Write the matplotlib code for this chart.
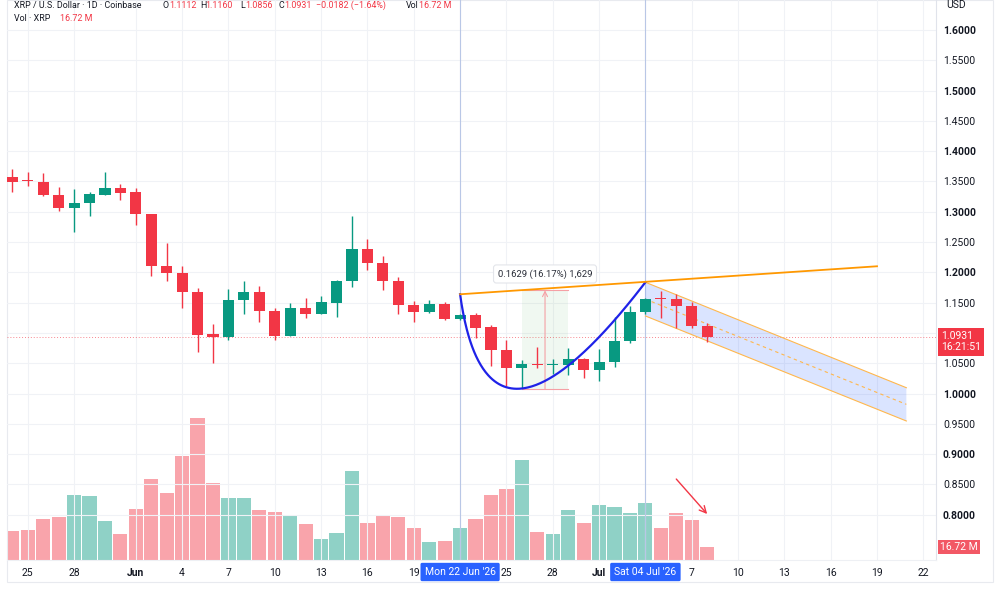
import numpy as np
import pandas as pd
import matplotlib
matplotlib.use('Agg')
import matplotlib.pyplot as plt
import matplotlib.transforms as mtransforms
from matplotlib.patches import Polygon, Rectangle

plt.rcParams['font.family'] = ['Roboto', 'DejaVu Sans']

# ---------------- data ----------------
start_date = pd.Timestamp('2026-05-24')
n_days = 46
dates = pd.date_range(start_date, periods=n_days, freq='D')

opens = [1.3569, 1.3508, 1.3492, 1.3277, 1.3057, 1.3140, 1.3283, 1.3393, 1.3321, 1.2964,
         1.2106, 1.1996, 1.1671, 1.0978, 1.0934, 1.1550, 1.1682, 1.1369, 1.0956, 1.1413,
         1.1319, 1.1501, 1.1853, 1.2381, 1.2161, 1.1858, 1.1457, 1.1347, 1.1484, 1.1231,
         1.1292, 1.1093, 1.0719, 1.0422, 1.0478, 1.0472, 1.0472, 1.0565, 1.0384, 1.0521,
         1.0862, 1.1341, 1.1572, 1.1567, 1.1446, 1.1112]
closes = [1.3492, 1.3500, 1.3277, 1.3057, 1.3140, 1.3288, 1.3393, 1.3310, 1.2958, 1.2100,
          1.1996, 1.1677, 1.0973, 1.0934, 1.1550, 1.1682, 1.1369, 1.0956, 1.1413, 1.1319,
          1.1506, 1.1853, 1.2381, 1.2161, 1.1858, 1.1457, 1.1347, 1.1484, 1.1231, 1.1290,
          1.1088, 1.0719, 1.0422, 1.0483, 1.0472, 1.0478, 1.0565, 1.0384, 1.0521, 1.0862,
          1.1341, 1.1567, 1.1562, 1.1446, 1.1110, 1.0931]
highs = [1.3701, 1.3651, 1.3646, 1.3415, 1.3371, 1.3321, 1.3651, 1.3464, 1.3393, 1.2964,
         1.2480, 1.2111, 1.1743, 1.1149, 1.1726, 1.1864, 1.1770, 1.1407, 1.1490, 1.1578,
         1.1611, 1.1869, 1.2931, 1.2551, 1.2271, 1.1924, 1.1528, 1.1545, 1.1517, 1.1310,
         1.1325, 1.1132, 1.0879, 1.0549, 1.0769, 1.0565, 1.0752, 1.0582, 1.0730, 1.1264,
         1.1451, 1.1575, 1.1693, 1.1638, 1.1517, 1.1160]
lows = [1.3321, 1.3431, 1.3266, 1.3019, 1.2667, 1.2936, 1.3283, 1.3195, 1.2788, 1.1946,
        1.1864, 1.1413, 1.0686, 1.0505, 1.0890, 1.1319, 1.1182, 1.0879, 1.0956, 1.1253,
        1.1308, 1.1270, 1.1759, 1.2040, 1.1704, 1.1308, 1.1187, 1.1336, 1.1220, 1.1220,
        1.0923, 1.0455, 1.0125, 1.0087, 1.0428, 1.0318, 1.0307, 1.0263, 1.0208, 1.0444,
        1.0829, 1.1308, 1.1253, 1.1088, 1.1088, 1.0856]
volumes_m = [36.1, 38.1, 51.5, 54.4, 81.7, 80.1, 49.0, 32.3, 63.7, 102.2,
             84.2, 130.3, 178.1, 96.8, 77.9, 77.9, 63.2, 60.3, 55.3, 44.9,
             26.0, 34.3, 111.9, 46.9, 56.6, 53.7, 40.6, 22.2, 23.5, 39.8,
             51.9, 81.7, 88.9, 125.7, 35.2, 33.1, 63.2, 46.5, 69.1, 66.6,
             59.1, 71.3, 40.6, 59.5, 49.9, 16.72]

price_ticks = [0.80, 0.85, 0.90, 0.95, 1.00, 1.05, 1.10, 1.15, 1.20, 1.25,
               1.30, 1.35, 1.40, 1.45, 1.50, 1.55, 1.60]
date_ticks = ['2026-05-25', '2026-05-28', '2026-06-01', '2026-06-04', '2026-06-07',
              '2026-06-10', '2026-06-13', '2026-06-16', '2026-06-19', '2026-06-22',
              '2026-06-25', '2026-06-28', '2026-07-01', '2026-07-04', '2026-07-07',
              '2026-07-10', '2026-07-13', '2026-07-16', '2026-07-19', '2026-07-22']
# '22' (Jun) and '4' (Jul) sit under the crosshair date boxes and are not visible
date_tick_labels = ['25', '28', 'Jun', '4', '7', '10', '13', '16', '19', '',
                    '25', '28', 'Jul', '', '7', '10', '13', '16', '19', '22']

last_price = 1.0931
last_volume = 16.72

# drawings (date, price)
marker_dates = ['2026-06-22', '2026-07-04']
marker_labels = ["Mon 22 Jun '26", "Sat 04 Jul '26"]
trend_line = [('2026-06-22', 1.1639), ('2026-07-19', 1.2101)]
cup_points = [('2026-06-22', 1.1639), (30.73, 0.8424), ('2026-07-04', 1.1837)]
channel_upper = [('2026-07-04', 1.1837), (57.9, 1.0097)]
channel_lower = [('2026-07-04', 1.1281), (57.9, 0.9548)]
measure_dates = ['2026-06-26', '2026-06-29']
measure_low, measure_high = 1.0074, 1.1703
measure_text = "0.1629 (16.17%) 1,629"
vol_arrow = [(43.0, 0.859), (45.0, 0.8013)]

# ---------------- helpers ----------------
def di(d):
    if isinstance(d, (int, float)):
        return float(d)
    return float((pd.Timestamp(d) - start_date).days)

x = np.arange(n_days)
o = np.array(opens); c = np.array(closes); h = np.array(highs); l = np.array(lows)
up = c >= o
GREEN = '#089981'
RED = '#f23645'
TXT = '#131722'
candle_colors = np.where(up, GREEN, RED)
vol_colors = [(8/255, 153/255, 129/255, 0.45) if u else (242/255, 54/255, 69/255, 0.45) for u in up]

W, H = 1000, 600
fig = plt.figure(figsize=(10, 6), dpi=100)
fig.patch.set_facecolor('white')
rect = [7 / W, 40 / H, 929 / W, 560 / H]
axv = fig.add_axes(rect, zorder=0)
ax = fig.add_axes(rect, zorder=1)
ax.patch.set_visible(False)

xlim = (-0.343, 59.82)
ax.set_xlim(xlim); axv.set_xlim(xlim)
ax.set_ylim(0.7254, 1.6495)
axv.set_ylim(0, 704)

# volume
axv.bar(x, volumes_m, width=0.92, color=vol_colors, linewidth=0)
axv.set_xticks([]); axv.set_yticks([])
for s in axv.spines.values():
    s.set_visible(False)

# grid / ticks
ax.set_yticks(price_ticks)
xt = [di(d) for d in date_ticks]
ax.set_xticks(xt)
ax.set_xticklabels(date_tick_labels)
ax.grid(True, color='#f0f2f6', lw=0.8)
ax.set_axisbelow(True)
ax.yaxis.tick_right()
ax.set_yticklabels([f'{p:.4f}' for p in price_ticks])
ax.tick_params(axis='y', length=0, pad=5, labelsize=7.5, labelcolor=TXT)
ax.tick_params(axis='x', length=0, pad=6, labelsize=7.5, labelcolor=TXT)
for lab, p in zip(ax.get_yticklabels(), price_ticks):
    if abs(round(p * 10) - p * 10) < 1e-6:
        lab.set_fontweight('bold')
for lab in ax.get_xticklabels():
    if lab.get_text() in ('Jun', 'Jul'):
        lab.set_fontweight('bold')
for k, s in ax.spines.items():
    s.set_visible(False)
ax.spines['right'].set_visible(True)
ax.spines['right'].set_color('#e0e3eb')
ax.spines['right'].set_linewidth(0.8)
ax.spines['bottom'].set_visible(True)
ax.spines['bottom'].set_color('#eef0f4')
ax.spines['bottom'].set_linewidth(0.8)

# vertical marker lines
for d in marker_dates:
    ax.axvline(di(d), color='#b9c7e6', lw=0.8, zorder=1)

# current price line
ax.axhline(last_price, color=RED, lw=0.7, ls=(0, (1, 2)), alpha=0.6, zorder=1)

# channel fill
ux = [di(p[0]) for p in channel_upper]; uy = [p[1] for p in channel_upper]
lx = [di(p[0]) for p in channel_lower]; ly = [p[1] for p in channel_lower]
poly = Polygon([(ux[0], uy[0]), (ux[1], uy[1]), (lx[1], ly[1]), (lx[0], ly[0])],
               closed=True, fc='#2962ff', alpha=0.17, ec='none', zorder=1.5)
ax.add_patch(poly)
ax.plot(ux, uy, color='#ffb74d', lw=0.8, zorder=2)
ax.plot(lx, ly, color='#ffb74d', lw=0.8, zorder=2)
ax.plot([ux[0], ux[1]], [(uy[0] + ly[0]) / 2, (uy[1] + ly[1]) / 2], color='#ffb74d',
        lw=0.8, ls=(0, (3, 3)), zorder=2)

# measurement box
mx0, mx1 = di(measure_dates[0]), di(measure_dates[1])
ax.add_patch(Rectangle((mx0, measure_low), mx1 - mx0, measure_high - measure_low,
                       fc='#4caf50', alpha=0.08, ec='none', zorder=1.5))
ax.plot([mx0, mx1], [measure_high, measure_high], color='#f5a0a5', lw=0.8, zorder=2)
ax.plot([mx0, mx1], [measure_low, measure_low], color='#f5a0a5', lw=0.8, zorder=2)
mxc = (mx0 + mx1) / 2
ax.annotate('', xy=(mxc, measure_high), xytext=(mxc, measure_low),
            arrowprops=dict(arrowstyle='->', color='#f5a0a5', lw=0.8,
                            shrinkA=0, shrinkB=0, mutation_scale=9), zorder=2)
ax.text(mxc, 1.1974, measure_text, ha='center', va='center', fontsize=6.8, color='#2a2e39',
        zorder=8, bbox=dict(boxstyle='round,pad=0.45,rounding_size=0.3', fc='white',
                            ec='#e3e5ea', lw=0.8))

# candles
ax.vlines(x, l, h, colors=candle_colors, lw=1.0, zorder=3)
body_h = np.maximum(np.abs(c - o), 0.0017)
ax.bar(x, body_h, bottom=np.minimum(o, c), width=0.72, color=candle_colors,
       linewidth=0, zorder=3.5)

# cup curve (quadratic bezier)
P = np.array([[di(p[0]), p[1]] for p in cup_points])
t = np.linspace(0, 1, 200)[:, None]
curve = (1 - t) ** 2 * P[0] + 2 * (1 - t) * t * P[1] + t ** 2 * P[2]
ax.plot(curve[:, 0], curve[:, 1], color='#1f22e8', lw=1.6, zorder=5)

# trend line
ax.plot([di(p[0]) for p in trend_line], [p[1] for p in trend_line], color='#ff9800',
        lw=1.3, zorder=5)

# red arrow
ax.annotate('', xy=vol_arrow[1], xytext=vol_arrow[0],
            arrowprops=dict(arrowstyle='->', color=RED, lw=1.0, shrinkA=0, shrinkB=0,
                            mutation_scale=12), zorder=6)

# date marker boxes
tb = mtransforms.blended_transform_factory(ax.transData, ax.transAxes)
for d, lab in zip(marker_dates, marker_labels):
    ax.text(di(d), -12 / 560, lab, transform=tb, ha='center', va='center', fontsize=7.5,
            color='white', zorder=20, clip_on=False,
            bbox=dict(boxstyle='round,pad=0.4,rounding_size=0.15', fc='#2962ff', ec='none'))

# price label box
ty = mtransforms.blended_transform_factory(ax.transAxes, ax.transData)
ty_off = mtransforms.offset_copy(ty, fig=fig, x=0, y=6, units='dots')
ax.text(1.0 + 5 / 929, last_price, f'{last_price:.4f}\n16:21:51', transform=ty_off,
        ha='left', va='top', fontsize=7.5, color='white', linespacing=1.15,
        zorder=20, clip_on=False,
        bbox=dict(boxstyle='square,pad=0.32', fc=RED, ec='none'))

# volume label box
tyv = mtransforms.blended_transform_factory(axv.transAxes, axv.transData)
axv.text(1.0 + 4 / 929, last_volume, f'{last_volume:.2f} M', transform=tyv, ha='left',
         va='center', fontsize=7.5, color='white', zorder=20, clip_on=False,
         bbox=dict(boxstyle='square,pad=0.2', fc='#f25865', ec='none'))

# USD label
fig.text(946 / W, 1 - 5.5 / H, 'USD', ha='left', va='center', fontsize=7.5, color=TXT)

# header
def px(xp, yp):
    return xp / W, 1 - yp / H

hdr = [
    (14, 5.5, 'XRP / U.S. Dollar · 1D · Coinbase', TXT),
    (162.7, 5.5, 'O', TXT), (169.3, 5.5, '1.1112', RED),
    (200, 5.5, 'H', TXT), (205.7, 5.5, '1.1160', RED),
    (240, 5.5, 'L', TXT), (245.2, 5.5, '1.0856', RED),
    (278.5, 5.5, 'C', TXT), (284.5, 5.5, '1.0931', RED),
    (315.5, 5.5, '\u22120.0182 (\u22121.64%)', RED),
    (406, 5.5, 'Vol', TXT), (419, 5.5, '16.72 M', RED),
    (14, 18.3, 'Vol · XRP', TXT), (60, 18.3, '16.72 M', RED),
]
for xp, yp, s, col in hdr:
    fx, fy = px(xp, yp)
    fig.text(fx, fy, s, ha='left', va='center', fontsize=6.4, color=col)

# outer frame
fig.add_artist(Rectangle((7 / W, (600 - 582) / H), (993 - 7) / W, 582 / H,
                         transform=fig.transFigure, fill=False, ec='#e8eaef', lw=0.8))

fig.savefig('out.png', dpi=100, facecolor='white')
